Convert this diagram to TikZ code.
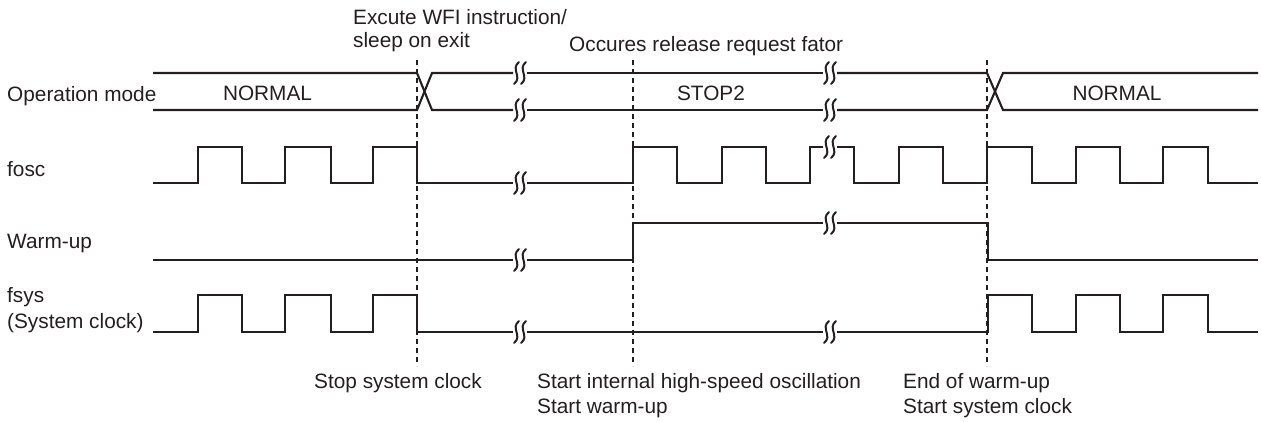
\documentclass[tikz,border=0pt]{standalone}
\usepackage{fontspec}
\setmainfont{Liberation Sans}
\definecolor{ink}{HTML}{231F20}
\newcommand\tbrk[2]{%
  \draw[brkmark] ({#1-1},{#2-11}) .. controls ({#1-10},{#2-4}) and ({#1+3},{#2+4}) .. ({#1-6},{#2+11});
  \draw[brkmark] ({#1+6},{#2-11}) .. controls ({#1-3},{#2-4}) and ({#1+10},{#2+4}) .. ({#1+1},{#2+11});
}
\begin{document}
\begin{tikzpicture}[x=1pt,y=-1pt,
  wave/.style={line width=2.1pt, draw=ink, line join=miter},
  brkmark/.style={line width=2pt, draw=ink, line cap=round},
  guide/.style={line width=1.7pt, draw=ink, dash pattern=on 5pt off 4pt},
  lbl/.style={inner sep=0pt, anchor=base west, text=ink, font=\fontsize{20.8}{25}\selectfont},
  ctr/.style={lbl, anchor=base}]
\useasboundingbox (0,0) rectangle (1261,421);

% guides
\coordinate (g1t) at (417,60); \coordinate (g1b) at (417,366);
\coordinate (g2t) at (633,60); \coordinate (g2b) at (633,366);
\coordinate (g3t) at (987,60); \coordinate (g3b) at (987,366);
\draw[guide] (g1t) -- (g1b);
\draw[guide] (g2t) -- (g2b);
\draw[guide] (g3t) -- (g3b);

% operation mode
\draw[wave] (153,73) -- (417,73) -- (432,110) -- (513,110);
\draw[wave] (153,110) -- (417,110) -- (432,73) -- (513,73);
\draw[wave] (527,73) -- (823,73);
\draw[wave] (527,110) -- (823,110);
\draw[wave] (837,73) -- (987,73) -- (1003,110) -- (1258,110);
\draw[wave] (837,110) -- (987,110) -- (1003,73) -- (1258,73);

% fosc
\draw[wave] (153,183) -| (198,147) -| (242,183) -| (285,147) -| (331,183) -| (373,147) -| (417,183) -- (513,183);
\draw[wave] (527,183) -| (633,147) -| (677,183) -| (722,147) -| (766,183) -| (810,147) -- (823,147);
\draw[wave] (837,147) -| (854,183) -| (899,147) -| (943,183) -| (987,147) -| (1032,183) -| (1076,147) -| (1120,183) -| (1163,147) -| (1208,183) -- (1258,183);

% warm-up
\draw[wave] (153,260) -- (513,260);
\draw[wave] (527,260) -| (633,223) -- (823,223);
\draw[wave] (837,223) -| (988,260) -- (1258,260);

% fsys
\draw[wave] (153,332) -| (198,295) -| (242,332) -| (285,295) -| (331,332) -| (373,295) -| (417,332) -- (513,332);
\draw[wave] (527,332) -- (823,332);
\draw[wave] (837,332) -| (988,295) -| (1032,332) -| (1076,295) -| (1120,332) -| (1163,295) -| (1208,332) -- (1258,332);

% breaks
\tbrk{520}{73}\tbrk{520}{110}\tbrk{830}{73}\tbrk{830}{110}
\tbrk{520}{183}\tbrk{830}{147}
\tbrk{520}{260}\tbrk{830}{223}
\tbrk{520}{332}\tbrk{830}{332}

% labels
\node[lbl] (lop) at (7,101) {Operation mode};
\node[lbl] (lfosc) at (7,176) {fosc};
\node[lbl] (lwarm) at (7,248) {Warm-up};
\node[lbl] (lfsys) at (7,302) {fsys};
\node[lbl] (lsys) at (7,328) {(System clock)};

\node[ctr] (n1) at (267.5,100) {NORMAL};
\node[ctr] (s2) at (711,100) {STOP2};
\node[ctr] (n2) at (1117,100) {NORMAL};

\node[lbl] (wfi1) at (353,24) {Excute WFI instruction/};
\node[lbl] (wfi2) at (353,47) {sleep on exit};
\node[lbl] (occ) at (569,51) {Occures release request fator};

\node[lbl] (stp) at (314,388) {Stop system clock};
\node[lbl] (sti1) at (537,388) {Start internal high-speed oscillation};
\node[lbl] (sti2) at (537,413) {Start warm-up};
\node[lbl] (end1) at (903,388) {End of warm-up};
\node[lbl] (end2) at (903,413) {Start system clock};
\end{tikzpicture}
\end{document}
